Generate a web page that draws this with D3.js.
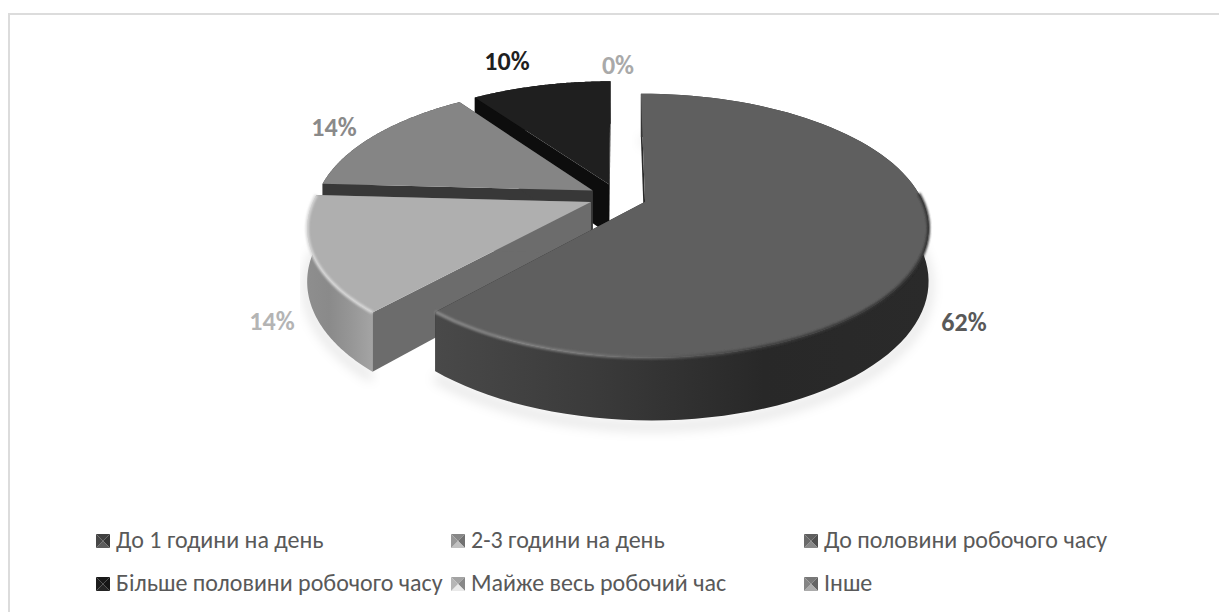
<!DOCTYPE html>
<html><head><meta charset="utf-8">
<script src="https://cdn.jsdelivr.net/npm/d3@7/dist/d3.min.js"></script>
<style>html,body{margin:0;padding:0;background:#fff}svg{display:block}</style>
</head><body><svg id="c" width="1219" height="612"></svg>
<script>
const categories = ["До 1 години на день","2-3 години на день","До половини робочого часу","Більше половини робочого часу","Майже весь робочий час","Інше"];
const values = [61.6,14.3,14.4,9.7,0];
const topColors = ["#5f5f5f","#afafaf","#858585","#1f1f1f"];
const cutColors = ["#2a2a2a","#6c6c6c","#383838","#0d0d0d"];
const wallStops = [["#494949","#3a3a3a","#282828","#2a2a2a"],["#8e8e8e","#8a8a8a","#969696","#a4a4a4"],["#383838","#383838","#383838","#383838"],["#0d0d0d","#0d0d0d","#0d0d0d","#0d0d0d"]];
const labelColors = ["#595959","#b4b4b4","#8a8a8a","#1f1f1f","#a9a9a9"];
const labelPos = [[964,325],[272,324],[334,130],[507,64],[618,68]];
const legendCols = [96,451,804];
const legendRows = [541,584];
const legendMid = ["#4a4a4a","#9c9c9c","#6e6e6e","#1d1d1d","#bcbcbc","#8a8a8a"];

const svg = d3.select("#c");
const defs = svg.append("defs");
defs.append("filter").attr("id","sh").attr("x","-10%").attr("y","-10%").attr("width","120%").attr("height","120%")
  .append("feGaussianBlur").attr("stdDeviation",6);
defs.append("filter").attr("id","rim").attr("x","-10%").attr("y","-10%").attr("width","120%").attr("height","120%")
  .append("feGaussianBlur").attr("stdDeviation",1.3);

svg.append("path").attr("d","M9 612V14H1219").attr("fill","none").attr("stroke","#dcdcdc").attr("stroke-width",2);

// projective model of the tilted pie
const cx=617.8, cy=197, R=276, Ry=126, k=0.18, expl=0.105, h0=51;
const proj=(U,V,z=0)=>{const s=1/(1-k*V);return [cx+R*U*s, cy+Ry*V*s+z*s];};
const line=d3.line();
const pieGen=d3.pie().sort(null).value(d=>d);
const arcs=pieGen(values);
const lo=i=>{const b=(arcs[i].startAngle+arcs[i].endAngle)/2;return [expl*Math.sin(b),-expl*Math.cos(b)];};
const at=(o,a,r=1)=>[o[0]+r*Math.sin(a),o[1]-r*Math.cos(a)];
const sampled=(a0,a1)=>d3.range(0,1.0001,1/90).map(t=>a0+(a1-a0)*t);

const g=svg.append("g");

// soft shadow under the front rim
[0,1].forEach(i=>{
  const o=lo(i),a=arcs[i];
  const pts=sampled(a.startAngle,a.endAngle).map(t=>{const p=at(o,t);return proj(p[0],p[1],h0+5);});
  g.append("path").attr("d",line(pts)).attr("fill","none").attr("stroke","#000").attr("stroke-opacity",.13).attr("stroke-width",7).attr("filter","url(#sh)");
});

// back to front
[3,2,1,0].forEach(i=>{
  const a=arcs[i],o=lo(i);
  const grp=g.append("g");
  const c=proj(o[0],o[1]), cb=proj(o[0],o[1],h0);
  const ang=sampled(a.startAngle,a.endAngle);
  const tops=ang.map(t=>{const e=at(o,t);return proj(e[0],e[1]);});
  const bots=ang.map(t=>{const e=at(o,t);return proj(e[0],e[1],h0);});
  const cuts=()=>[a.startAngle,a.endAngle].forEach(t=>{
    const e=at(o,t),p=proj(e[0],e[1]),pb=proj(e[0],e[1],h0);
    grp.append("path").attr("d",line([c,p,pb,cb])+"Z").attr("fill",cutColors[i]);
  });
  const outer=()=>{
    const xs=d3.extent(tops,d=>d[0]);
    const gid="w"+i;
    const lg=defs.append("linearGradient").attr("id",gid).attr("gradientUnits","userSpaceOnUse")
      .attr("x1",xs[0]).attr("x2",xs[1]).attr("y1",0).attr("y2",0);
    wallStops[i].forEach((col,j)=>lg.append("stop").attr("offset",j/3).attr("stop-color",col));
    grp.append("path").attr("d",line(tops.concat(bots.slice().reverse()))+"Z").attr("fill","url(#"+gid+")");
  };
  if(i===0){cuts();outer();}else{outer();cuts();}
  // top face
  grp.append("path").attr("d",line([c].concat(tops))+"Z").attr("fill",topColors[i]);
  // bevel along the visible rim
  if(i<2){
    const vis=tops.filter((p,j)=>{const e=at(o,ang[j]);return e[1]-o[1]>-0.1;});
    const rid="r"+i;
    const rg=defs.append("linearGradient").attr("id",rid).attr("gradientUnits","userSpaceOnUse")
      .attr("x1",d3.min(vis,d=>d[0])).attr("x2",d3.max(vis,d=>d[0])).attr("y1",0).attr("y2",0);
    (i===0?[["#8d8d8d",0],["#7a7a7a",.3],["#3c3c3c",.65],["#303030",1]]:[["#d8d8d8",0],["#d8d8d8",1]])
      .forEach(s=>rg.append("stop").attr("offset",s[1]).attr("stop-color",s[0]));
    grp.append("path").attr("d",line(vis)).attr("fill","none").attr("stroke","url(#"+rid+")").attr("stroke-width",3).attr("filter","url(#rim)");
  }
});

// data labels
const fmt=d3.format(".0f");
values.forEach((v,i)=>{
  svg.append("text").attr("x",labelPos[i][0]).attr("y",labelPos[i][1]).attr("text-anchor","middle")
   .attr("dominant-baseline","middle").attr("font-family","Carlito,Lato,'Open Sans',sans-serif").attr("font-weight",700).attr("font-size",26)
   .attr("fill",labelColors[i]).text(fmt(v)+"%");
});

// legend
const xL=d3.scaleOrdinal().domain([0,1,2]).range(legendCols), yL=d3.scaleOrdinal().domain([0,1]).range(legendRows);
categories.forEach((name,i)=>{
  const x=xL(i%3), y=yL(Math.floor(i/3)), s=14, m=d3.color(legendMid[i]);
  const gk=svg.append("g").attr("transform",`translate(${x},${y-s/2})`);
  const tri=[[[0,0],[s,0],[s/2,s/2]],[[s,0],[s,s],[s/2,s/2]],[[s,s],[0,s],[s/2,s/2]],[[0,s],[0,0],[s/2,s/2]]];
  [m.darker(.4),m.darker(.9),m.brighter(.6),m.darker(.1)].forEach((col,j)=>gk.append("path").attr("d",line(tri[j])+"Z").attr("fill",col.formatRgb()));
  svg.append("text").attr("x",x+20).attr("y",y+1).attr("dominant-baseline","middle")
   .attr("font-family","Carlito,Lato,'Open Sans',sans-serif").attr("font-size",24).attr("fill","#595959").text(name);
});
</script></body></html>
